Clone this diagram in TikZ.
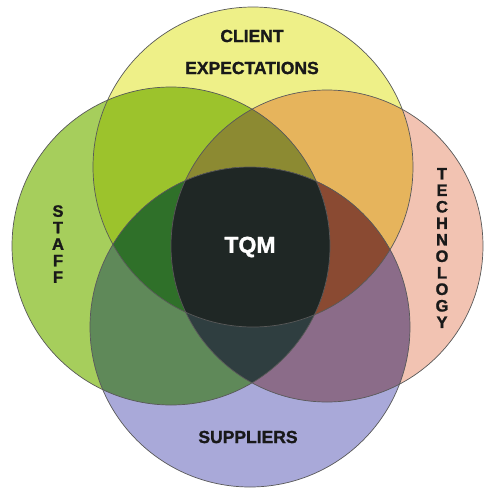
\documentclass[tikz,border=0pt]{standalone}
\usepackage{fontspec}
\setmainfont{Liberation Sans}[BoldFeatures={FakeBold=1.3}]
\usetikzlibrary{positioning}

% single circles
\definecolor{clientY}{HTML}{EEF088}
\definecolor{staffG}{HTML}{A6CE5C}
\definecolor{techR}{HTML}{F2C3B2}
\definecolor{supB}{HTML}{A9A9D9}
% overlaps
\definecolor{ygG}{HTML}{9CC32C}
\definecolor{yrO}{HTML}{E6B45C}
\definecolor{gbS}{HTML}{5F8959}
\definecolor{rbM}{HTML}{8B6C89}
\definecolor{ybX}{HTML}{6F7F48}
\definecolor{grX}{HTML}{6E7A50}
\definecolor{ygrO}{HTML}{8C8A32}
\definecolor{ygbD}{HTML}{2F7029}
\definecolor{yrbB}{HTML}{8A4A32}
\definecolor{grbS}{HTML}{2F3E40}
\definecolor{allK}{HTML}{1F2725}

\newcommand{\circY}{(253,167) circle[radius=160pt]}
\newcommand{\circG}{(171,246) circle[radius=159pt]}
\newcommand{\circR}{(327,246) circle[radius=156pt]}
\newcommand{\circB}{(250,327) circle[radius=160pt]}

\begin{document}
\begin{tikzpicture}[x=1pt, y=-1pt,
  ring/.style={draw=black!65, line width=0.7pt},
  lbl/.style={font=\bfseries\fontsize{17.5}{18}\selectfont, text=black!90, inner sep=0pt},
  vlbl/.style={font=\bfseries\fontsize{16.5}{16.5}\selectfont, text=black!90, align=center, inner sep=0pt}
]
\useasboundingbox[fill=white] (0,0) rectangle (483,488);

% one set
\fill[clientY] \circY;
\fill[staffG] \circG;
\fill[techR] \circR;
\fill[supB] \circB;

% two sets
\begin{scope} \clip \circY; \fill[ygG] \circG; \end{scope}
\begin{scope} \clip \circY; \fill[yrO] \circR; \end{scope}
\begin{scope} \clip \circG; \fill[gbS] \circB; \end{scope}
\begin{scope} \clip \circR; \fill[rbM] \circB; \end{scope}
\begin{scope} \clip \circY; \fill[ybX] \circB; \end{scope}
\begin{scope} \clip \circG; \fill[grX] \circR; \end{scope}

% three sets
\begin{scope} \clip \circY; \clip \circG; \fill[ygrO] \circR; \end{scope}
\begin{scope} \clip \circY; \clip \circG; \fill[ygbD] \circB; \end{scope}
\begin{scope} \clip \circY; \clip \circR; \fill[yrbB] \circB; \end{scope}
\begin{scope} \clip \circG; \clip \circR; \fill[grbS] \circB; \end{scope}

% all four
\begin{scope} \clip \circY; \clip \circG; \clip \circR; \fill[allK] \circB; \end{scope}

% outlines
\draw[ring] \circY;
\draw[ring] \circG;
\draw[ring] \circR;
\draw[ring] \circB;

\node[lbl] (client) at (252,36) {CLIENT};
\node[lbl] (expect) at (252,68) {EXPECTATIONS};
\node[vlbl] (staff) at (58,244) {S\\T\\A\\F\\F};
\node[vlbl] (tech) at (442,248) {T\\E\\C\\H\\N\\O\\L\\O\\G\\Y};
\node[lbl] (supp) at (248,437) {SUPPLIERS};
\node[lbl, font=\bfseries\fontsize{23}{24}\selectfont, text=white] (tqm) at (250,247) {TQM};
\end{tikzpicture}
\end{document}
